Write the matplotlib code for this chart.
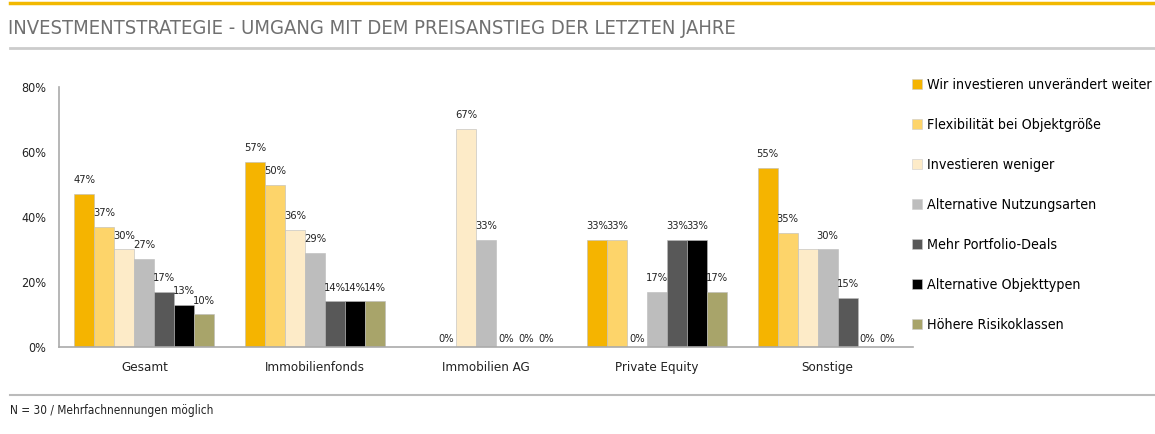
import matplotlib.pyplot as plt
import matplotlib.lines as mlines
import numpy as np

plt.rcParams['font.family'] = ['DejaVu Sans']
plt.rcParams['font.stretch'] = 'condensed'

groups = ["Gesamt", "Immobilienfonds", "Immobilien AG", "Private Equity", "Sonstige"]
series = ["Wir investieren unverändert weiter", "Flexibilität bei Objektgröße",
          "Investieren weniger", "Alternative Nutzungsarten", "Mehr Portfolio-Deals",
          "Alternative Objekttypen", "Höhere Risikoklassen"]
colors = ["#F5B400", "#FDD46A", "#FDEBC8", "#BDBDBD", "#585858", "#000000", "#A8A46A"]

unveraendert = [47, 57, 0, 33, 55]
flexibilitaet = [37, 50, 0, 33, 35]
weniger = [30, 36, 67, 0, 30]
nutzungsarten = [27, 29, 33, 17, 30]
portfolio = [17, 14, 0, 33, 15]
objekttypen = [13, 14, 0, 33, 0]
risiko = [10, 14, 0, 17, 0]
values = [unveraendert, flexibilitaet, weniger, nutzungsarten, portfolio, objekttypen, risiko]

# labels that are not shown in the original (series index, group index)
hidden = {(0, 2), (2, 4)}

fig = plt.figure(figsize=(11.55, 4.34), dpi=100)
ax = fig.add_axes([0.0511, 0.2005, 0.7394, 0.599])

x = np.arange(len(groups))
w = 0.117
for i, vals in enumerate(values):
    pos = x + (i - 3) * w
    ax.bar(pos, vals, width=w, color=colors[i], edgecolor="#BBBBBB", linewidth=0.4, label=series[i])
    for j, v in enumerate(vals):
        if (i, j) in hidden:
            continue
        ax.annotate(f"{v}%", (pos[j], v), xytext=(0, 10 if v > 0 else 6), textcoords="offset points",
                    ha="center", va="center", fontsize=8, color="#222222")

ax.set_xlim(-0.5, 4.5)
ax.set_ylim(0, 80)
ax.set_yticks([0, 20, 40, 60, 80])
ax.set_yticklabels(["0%", "20%", "40%", "60%", "80%"], fontsize=9, color="#222222")
ax.set_xticks(x)
ax.set_xticklabels(groups, fontsize=9.5, color="#222222")
ax.tick_params(length=0, pad=9, axis="y")
ax.tick_params(length=0, pad=10, axis="x")
for s in ["top", "right"]:
    ax.spines[s].set_visible(False)
for s in ["left", "bottom"]:
    ax.spines[s].set_color("#AAAAAA")
    ax.spines[s].set_linewidth(1.2)

handles = [mlines.Line2D([], [], marker="s", linestyle="none", markersize=7,
                         markerfacecolor=c, markeredgecolor="#CCCCCC", markeredgewidth=0.4)
           for c in colors]
fig.legend(handles, series, loc="upper left", bbox_to_anchor=(0.784, 0.834), frameon=False,
           fontsize=10.3, handlelength=0.8, handletextpad=0.3, labelspacing=1.82, borderaxespad=0)

# header and footer decoration
fig.add_artist(mlines.Line2D([0.009, 1], [0.993, 0.993], color="#F2B800", lw=2.5))
fig.add_artist(mlines.Line2D([0.009, 1], [0.89, 0.89], color="#CCCCCC", lw=2))
fig.add_artist(mlines.Line2D([0.009, 1], [0.09, 0.09], color="#BBBBBB", lw=1.5))
fig.text(0.007, 0.935, "INVESTMENTSTRATEGIE - UMGANG MIT DEM PREISANSTIEG DER LETZTEN JAHRE",
         fontsize=14.5, color="#707070", va="center", ha="left")
fig.text(0.009, 0.053, "N = 30 / Mehrfachnennungen möglich", fontsize=8.5, color="#222222",
         va="center", ha="left")

fig.savefig("out.png", dpi=100)
